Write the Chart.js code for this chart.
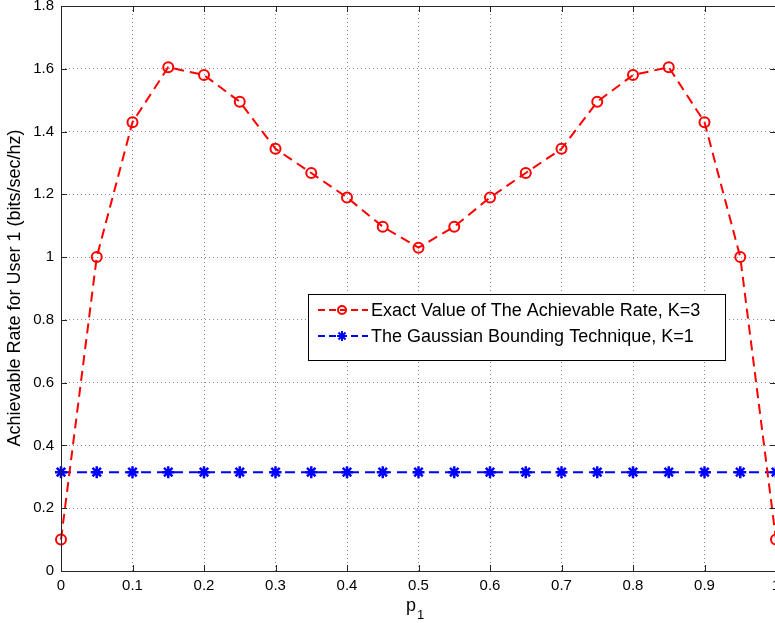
<!DOCTYPE html>
<html>
<head>
<meta charset="utf-8">
<script src="https://cdn.jsdelivr.net/npm/chart.js@4/dist/chart.umd.min.js"></script>
<style>
  html, body { margin:0; padding:0; background:#fff; overflow:hidden; }
</style>
</head>
<body>
<canvas id="rateChart" width="800" height="623"></canvas>
<script>
// ================= DATA =================
const pValues = [0, 0.05, 0.1, 0.15, 0.2, 0.25, 0.3, 0.35, 0.4, 0.45, 0.5,
                 0.55, 0.6, 0.65, 0.7, 0.75, 0.8, 0.85, 0.9, 0.95, 1];
const exactRate = [0.10, 1.00, 1.43, 1.605, 1.58, 1.495, 1.345, 1.268, 1.19, 1.097, 1.03,
                   1.097, 1.19, 1.268, 1.345, 1.495, 1.58, 1.605, 1.43, 1.00, 0.10];
const gaussRate = [0.315, 0.315, 0.315, 0.315, 0.315, 0.315, 0.315, 0.315, 0.315, 0.315, 0.315,
                   0.315, 0.315, 0.315, 0.315, 0.315, 0.315, 0.315, 0.315, 0.315, 0.315];
const xTicks = [0, 0.1, 0.2, 0.3, 0.4, 0.5, 0.6, 0.7, 0.8, 0.9, 1];
const yTicks = [0, 0.2, 0.4, 0.6, 0.8, 1, 1.2, 1.4, 1.6, 1.8];
const seriesNames = ["Exact Value of The Achievable Rate, K=3", "The Gaussian Bounding Technique, K=1"];
const xTitle = "p";
const xTitleSub = "1";
const yTitle = "Achievable Rate for User 1 (bits/sec/hz)";

const FONT = "'Liberation Sans', Arial, Helvetica, sans-serif";
const PLOT_TOP = 6;

// ================= PLUGINS =================
const frame = {
  id: "frame",
  afterLayout(chart){
    // pull the plot top up to where matlab puts it
    const a = chart.chartArea;
    const ys = chart.scales.y;
    if(!ys || a.top <= PLOT_TOP) return;
    a.top = PLOT_TOP;
    a.height = a.bottom - a.top;
    ys.top = PLOT_TOP;
    ys.height = ys.bottom - ys.top;
    ys.configure();
  },
  beforeDraw(chart){
    const c = chart.ctx;
    c.save();
    c.fillStyle = "#fff";
    c.fillRect(0, 0, chart.width, chart.height);
    c.restore();
  },
  afterDatasetsDraw(chart){
    const c = chart.ctx;
    const a = chart.chartArea;
    const xs = chart.scales.x, ys = chart.scales.y;
    c.save();
    c.strokeStyle = "#262626";
    c.lineWidth = 1;
    c.strokeRect(Math.round(a.left) + 0.5, Math.round(a.top) + 0.5,
                 Math.round(a.right - a.left), Math.round(a.bottom - a.top));
    // inward tick marks, matlab style
    c.beginPath();
    xTicks.forEach(v => {
      const px = Math.round(xs.getPixelForValue(v)) + 0.5;
      c.moveTo(px, a.bottom); c.lineTo(px, a.bottom - 6);
      c.moveTo(px, a.top); c.lineTo(px, a.top + 6);
    });
    yTicks.forEach(v => {
      const py = Math.round(ys.getPixelForValue(v)) + 0.5;
      c.moveTo(a.left, py); c.lineTo(a.left + 6, py);
      c.moveTo(a.right, py); c.lineTo(a.right - 6, py);
    });
    c.stroke();

    // x title with subscript
    c.fillStyle = "#000";
    c.font = "18px " + FONT;
    c.textBaseline = "alphabetic";
    c.textAlign = "left";
    c.fillText(xTitle, 406, 611);
    c.font = "13px " + FONT;
    c.fillText(xTitleSub, 417, 619);

    // y title
    c.save();
    c.translate(20, 288);
    c.rotate(-Math.PI / 2);
    c.font = "18px " + FONT;
    c.textAlign = "center";
    c.fillText(yTitle, 0, 0);
    c.restore();

    // legend box
    const lx = 308, ly = 294, lw = 417, lh = 66;
    c.fillStyle = "#fff";
    c.fillRect(lx, ly, lw, lh);
    c.strokeStyle = "#000";
    c.strokeRect(lx + 0.5, ly + 0.5, lw, lh);
    const rows = [
      { y: 310, color: "#ff0000", mark: "circle" },
      { y: 336, color: "#0000ff", mark: "star" }
    ];
    rows.forEach((r, i) => {
      c.strokeStyle = r.color;
      c.lineWidth = 2;
      c.setLineDash([7, 4]);
      c.beginPath();
      c.moveTo(318, r.y); c.lineTo(368, r.y);
      c.stroke();
      c.setLineDash([]);
      if(r.mark === "circle"){
        c.beginPath();
        c.arc(342, r.y, 4, 0, Math.PI * 2);
        c.stroke();
      } else {
        c.beginPath();
        for(let k = 0; k < 4; k++){
          const ang = k * Math.PI / 4;
          c.moveTo(342 - 5 * Math.cos(ang), r.y - 5 * Math.sin(ang));
          c.lineTo(342 + 5 * Math.cos(ang), r.y + 5 * Math.sin(ang));
        }
        c.stroke();
      }
      c.fillStyle = "#000";
      c.font = "18px " + FONT;
      c.textBaseline = "middle";
      c.fillText(seriesNames[i], 371, r.y + 1);
    });
    c.restore();
  }
};

// ================= CHART =================
const ctx = document.getElementById("rateChart");
const fmt = v => String(Math.round(v * 10) / 10);

new Chart(ctx, {
  type: "line",
  data: {
    datasets: [
      {
        label: seriesNames[0],
        data: pValues.map((p, i) => ({ x: p, y: exactRate[i] })),
        borderColor: "#ff0000",
        borderWidth: 2,
        borderDash: [10, 6],
        pointStyle: "circle",
        pointRadius: 5,
        pointBorderWidth: 2,
        pointBorderColor: "#ff0000",
        pointBackgroundColor: "rgba(0,0,0,0)",
        tension: 0,
        fill: false,
        clip: false
      },
      {
        label: seriesNames[1],
        data: pValues.map((p, i) => ({ x: p, y: gaussRate[i] })),
        borderColor: "#0000ff",
        borderWidth: 2,
        borderDash: [10, 6],
        pointStyle: "star",
        pointRadius: 6,
        pointBorderWidth: 2.5,
        pointBorderColor: "#0000ff",
        pointBackgroundColor: "#0000ff",
        tension: 0,
        fill: false,
        clip: false
      }
    ]
  },
  options: {
    responsive: false,
    animation: false,
    devicePixelRatio: 1,
    layout: { padding: { top: 6, right: 24, left: 0, bottom: 0 } },
    plugins: {
      legend: { display: false },
      tooltip: { enabled: false }
    },
    scales: {
      x: {
        type: "linear",
        min: 0,
        max: 1,
        afterBuildTicks: s => { s.ticks = xTicks.map(v => ({ value: v })); },
        afterFit: s => { s.height = 52; },
        ticks: { color: "#000", font: { family: FONT, size: 15 }, padding: 6, maxRotation: 0,
                 autoSkip: false, callback: v => fmt(v) },
        grid: { color: "#8a8a8a", drawTicks: false, lineWidth: 1 },
        border: { display: false, dash: [1, 3] }
      },
      y: {
        min: 0,
        max: 1.8,
        afterBuildTicks: s => { s.ticks = yTicks.map(v => ({ value: v })); },
        afterFit: s => { s.width = 61; },
        ticks: { color: "#000", font: { family: FONT, size: 15 }, padding: 7,
                 autoSkip: false, callback: v => fmt(v) },
        grid: { color: "#8a8a8a", drawTicks: false, lineWidth: 1 },
        border: { display: false, dash: [1, 3] }
      }
    }
  },
  plugins: [frame]
});
</script>
</body>
</html>
